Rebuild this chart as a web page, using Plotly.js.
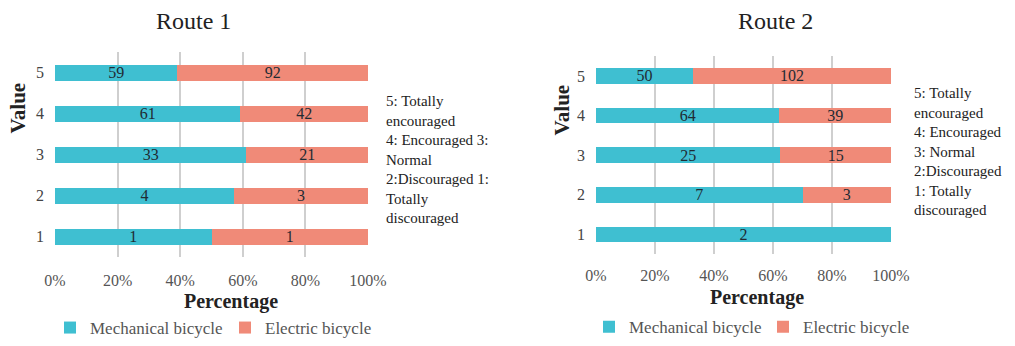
<!DOCTYPE html>
<html>
<head>
<meta charset="utf-8">
<script src="https://cdn.plot.ly/plotly-3.0.1.min.js"></script>
<style>
  html, body { margin: 0; padding: 0; background: #ffffff; }
  #chart { width: 1015px; height: 346px; }
</style>
</head>
<body>
<div id="chart"></div>
<script>
// Survey answer levels (1 = totally discouraged ... 5 = totally encouraged)
const values = ['1', '2', '3', '4', '5'];

// Route 1 respondent counts per answer level
const route1Mechanical = [1, 4, 33, 61, 59];
const route1Electric   = [1, 3, 21, 42, 92];

// Route 2 respondent counts per answer level
const route2Mechanical = [2, 7, 25, 64, 50];
const route2Electric   = [0, 3, 15, 39, 102];

const seriesNames = ['Mechanical bicycle', 'Electric bicycle'];
const percentTicks = [0, 20, 40, 60, 80, 100];

const noteRoute1 = ['5: Totally', 'encouraged', '4: Encouraged 3:', 'Normal',
                    '2:Discouraged 1:', 'Totally', 'discouraged'];
const noteRoute2 = ['5: Totally', 'encouraged', '4: Encouraged', '3: Normal',
                    '2:Discouraged', '1: Totally', 'discouraged'];

const SERIF = 'Liberation Serif';
const TEAL = '#3fbfd1';
const SALMON = '#f08a78';

function labelsFor(counts) {
  return counts.map(v => (v === 0 ? '' : String(v)));
}

function barTrace(counts, name, color, xa, ya, legendId) {
  return {
    type: 'bar',
    orientation: 'h',
    y: values,
    x: counts,
    name: name,
    xaxis: xa,
    yaxis: ya,
    legend: legendId,
    marker: { color: color, line: { width: 0 } },
    text: labelsFor(counts),
    texttemplate: '%{text}',
    textposition: 'inside',
    insidetextanchor: 'middle',
    textangle: 0,
    constraintext: 'none',
    textfont: { family: SERIF, size: 16, color: '#1f2b33' },
    hoverinfo: 'skip'
  };
}

const traces = [
  barTrace(route1Mechanical, seriesNames[0], TEAL, 'x', 'y', 'legend'),
  barTrace(route1Electric, seriesNames[1], SALMON, 'x', 'y', 'legend'),
  barTrace(route2Mechanical, seriesNames[0], TEAL, 'x2', 'y2', 'legend2'),
  barTrace(route2Electric, seriesNames[1], SALMON, 'x2', 'y2', 'legend2')
];

function xAxis(domain, anchor, standoff) {
  return {
    domain: domain,
    anchor: anchor,
    range: [0, 100],
    tickvals: percentTicks,
    ticktext: percentTicks.map(t => t + '%'),
    showgrid: true,
    gridcolor: '#cfcfcf',
    gridwidth: 2,
    zeroline: false,
    showline: false,
    ticks: '',
    ticklabelstandoff: standoff,
    tickfont: { family: SERIF, size: 16, color: '#555555' },
    fixedrange: true
  };
}

function yAxis(domain, anchor) {
  return {
    domain: domain,
    anchor: anchor,
    type: 'category',
    categoryorder: 'array',
    categoryarray: values,
    range: [-0.5, 4.5],
    showgrid: false,
    zeroline: false,
    showline: false,
    ticks: '',
    ticklabelstandoff: 10,
    tickfont: { family: SERIF, size: 16, color: '#444444' },
    fixedrange: true
  };
}

function legendAt(x, y, entry) {
  return {
    orientation: 'h',
    x: x,
    y: y,
    xanchor: 'left',
    yanchor: 'middle',
    font: { family: SERIF, size: 17, color: '#555555' },
    itemwidth: 30,
    entrywidth: entry,
    bgcolor: 'rgba(0,0,0,0)',
    traceorder: 'normal'
  };
}

const W = 1015, H = 346;
const px = v => v / W;
const py = v => 1 - v / H;

const textAnn = (text, x, y, size, opts) => Object.assign({
  text: text,
  xref: 'paper', yref: 'paper',
  x: x, y: y,
  showarrow: false,
  font: { family: SERIF, size: size, color: '#222222' }
}, opts || {});

const layout = {
  width: W,
  height: H,
  margin: { l: 0, r: 0, t: 0, b: 0 },
  paper_bgcolor: '#ffffff',
  plot_bgcolor: '#ffffff',
  font: { family: SERIF },
  barmode: 'stack',
  barnorm: 'percent',
  bargap: 0.61,
  showlegend: true,
  xaxis: xAxis([px(55), px(368)], 'y', 12),
  yaxis: yAxis([py(261), py(53)], 'x'),
  xaxis2: xAxis([px(596), px(891)], 'y2', 10),
  yaxis2: yAxis([py(258), py(57)], 'x2'),
  legend: legendAt(px(50), py(333), 130),
  legend2: legendAt(px(589), py(332), 129),
  annotations: [
    textAnn('Route 1', px(193), py(21), 24, { xanchor: 'center', yanchor: 'middle' }),
    textAnn('Route 2', px(775), py(21), 24, { xanchor: 'center', yanchor: 'middle' }),
    textAnn('<b>Value</b>', px(18), py(110), 21, { xanchor: 'center', yanchor: 'middle', textangle: -90 }),
    textAnn('<b>Value</b>', px(562), py(112), 21, { xanchor: 'center', yanchor: 'middle', textangle: -90 }),
    textAnn('<b>Percentage</b>', px(231), py(306), 20, { xanchor: 'center', yanchor: 'middle' }),
    textAnn('<b>Percentage</b>', px(757), py(302), 20, { xanchor: 'center', yanchor: 'middle' }),
    textAnn(noteRoute1.join('<br>'), px(384), py(162), 15, { xanchor: 'left', yanchor: 'middle', align: 'left' }),
    textAnn(noteRoute2.join('<br>'), px(912), py(154), 15, { xanchor: 'left', yanchor: 'middle', align: 'left' })
  ]
};

Plotly.newPlot('chart', traces, layout, { staticPlot: true, displayModeBar: false });
</script>
</body>
</html>
